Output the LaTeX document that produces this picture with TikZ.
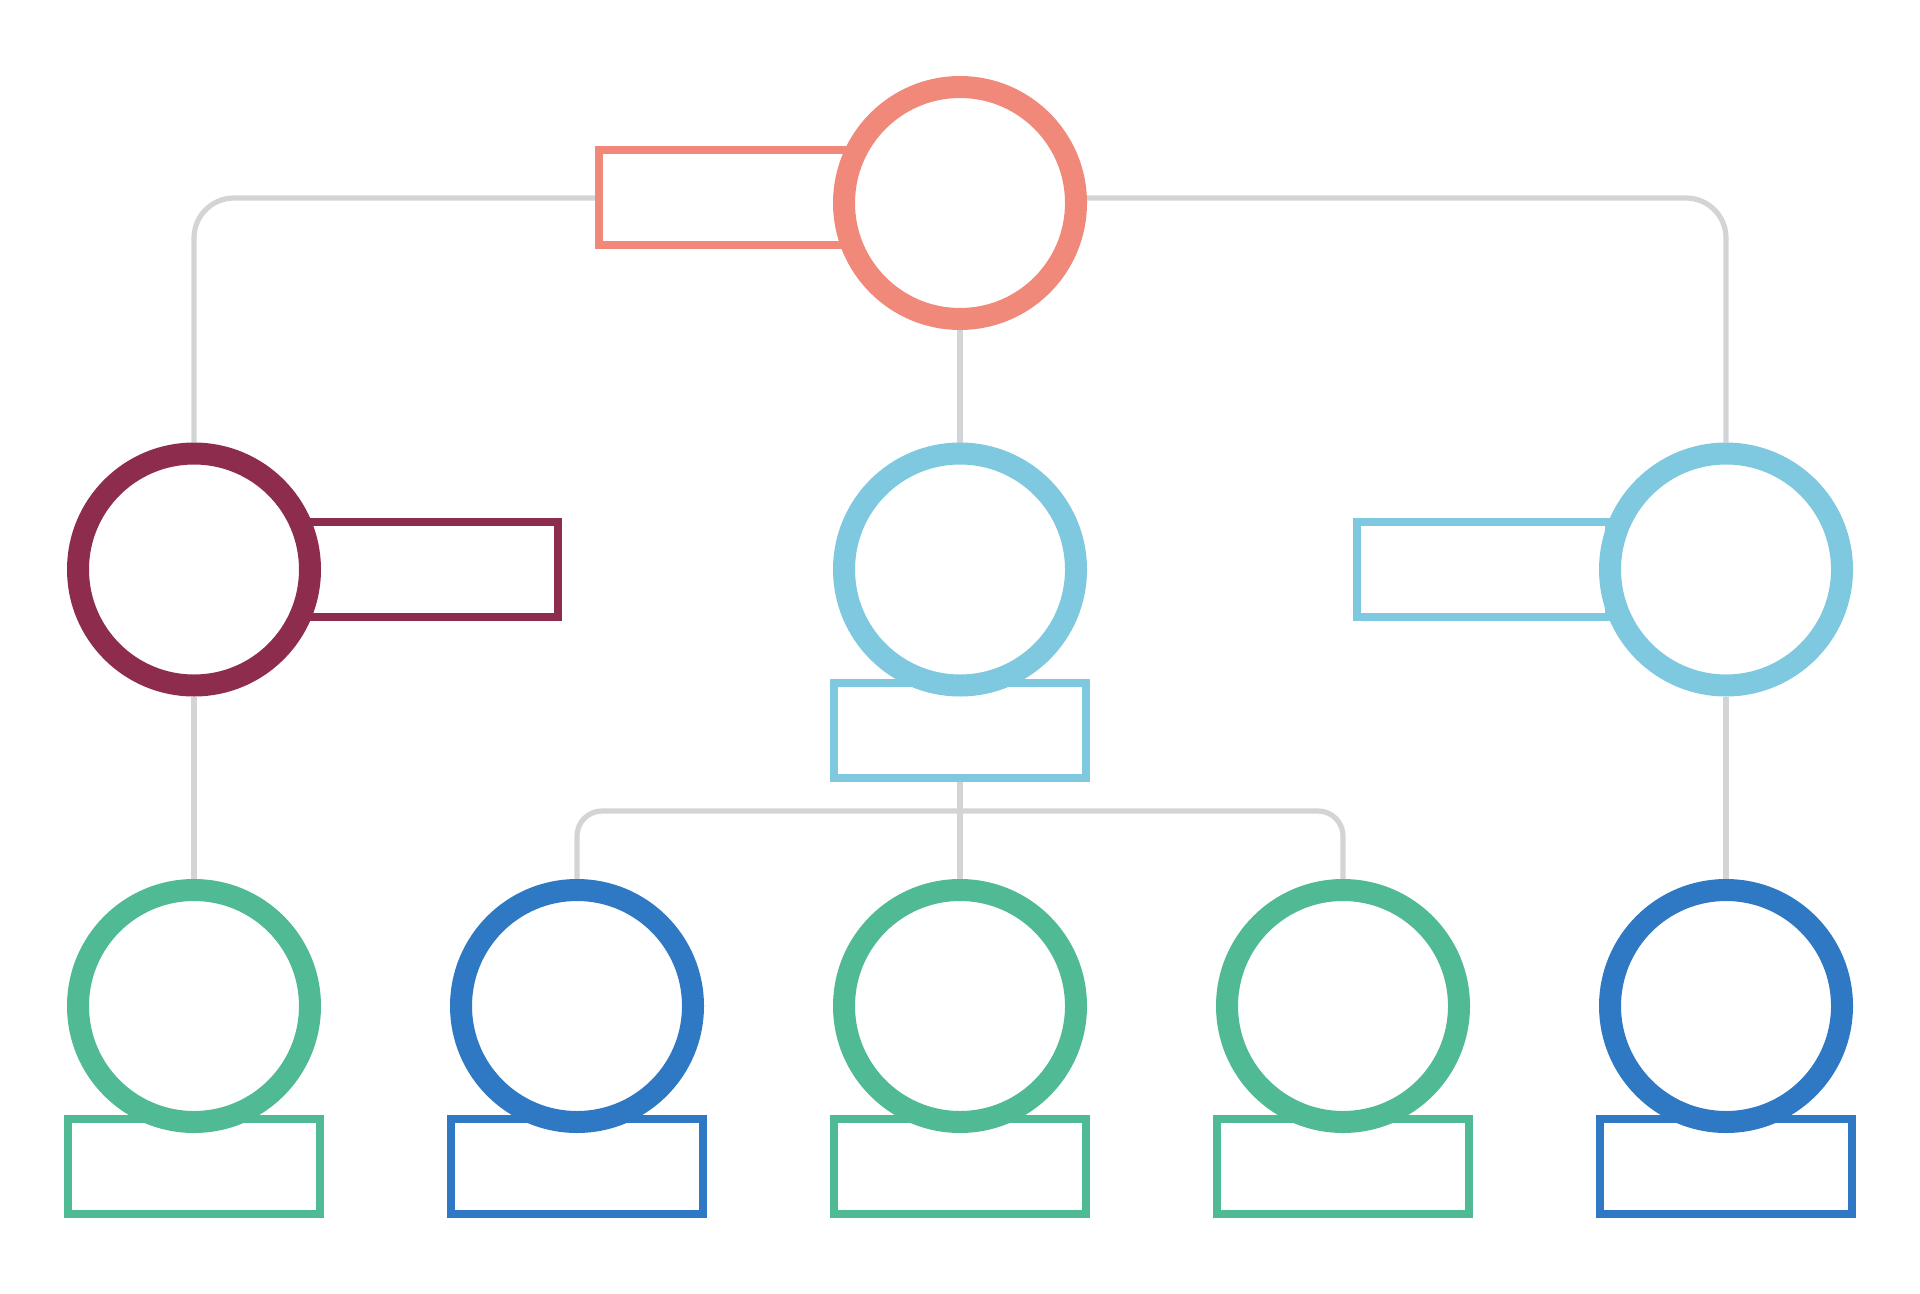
\documentclass[tikz,border=0pt]{standalone}
\usetikzlibrary{backgrounds}
\definecolor{salmon}{HTML}{F0897A}
\definecolor{maroon}{HTML}{8E2C4E}
\definecolor{skyb}{HTML}{7EC8E0}
\definecolor{greenc}{HTML}{4FBA94}
\definecolor{bluec}{HTML}{2F78C4}
\definecolor{connc}{HTML}{D3D4D6}
\tikzset{
  ring/.style={circle, draw=#1, line width=11pt, fill=white, minimum size=116pt, inner sep=0pt},
  tag/.style={rectangle, draw=#1, line width=4pt, fill=white, minimum width=126pt, minimum height=47.5pt, inner sep=0pt},
  conn/.style={draw=connc, line width=2.6pt},
}
\begin{document}
\begin{tikzpicture}[x=0.5pt,y=-0.5pt]
\useasboundingbox (0,0) rectangle (1920,1294);
% rectangles (behind circles)
\node[tag=salmon] (toprect) at (725,198) {};
\node[tag=maroon] (leftrect) at (432,569.5) {};
\node[tag=skyb] (rightrect) at (1483,569.5) {};
\node[tag=skyb] (midrect) at (960,730) {};
\node[tag=greenc] (r1) at (194,1166.5) {};
\node[tag=bluec] (r2) at (577,1166.5) {};
\node[tag=greenc] (r3) at (960,1166.5) {};
\node[tag=greenc] (r4) at (1343,1166.5) {};
\node[tag=bluec] (r5) at (1726,1166.5) {};
% circles
\node[ring=salmon] (top) at (960,203) {};
\node[ring=maroon] (left) at (194,569.5) {};
\node[ring=skyb] (mid) at (960,569.5) {};
\node[ring=skyb] (right) at (1726,569.5) {};
\node[ring=greenc] (b1) at (194,1006) {};
\node[ring=bluec] (b2) at (577,1006) {};
\node[ring=greenc] (b3) at (960,1006) {};
\node[ring=greenc] (b4) at (1343,1006) {};
\node[ring=bluec] (b5) at (1726,1006) {};
\coordinate (hub) at (960,811);
% connectors
\begin{scope}[on background layer]
\draw[conn, rounded corners=20pt] (toprect.west) -| (left.north);
\draw[conn, rounded corners=20pt] (toprect.east) -| (right.north);
\draw[conn] (top.south) -- (mid.north);
\draw[conn] (left.south) -- (b1.north);
\draw[conn] (right.south) -- (b5.north);
\draw[conn] (midrect.south) -- (b3.north);
\draw[conn, rounded corners=12.5pt] (b2.north) |- (hub) -| (b4.north);
\end{scope}
\end{tikzpicture}
\end{document}
